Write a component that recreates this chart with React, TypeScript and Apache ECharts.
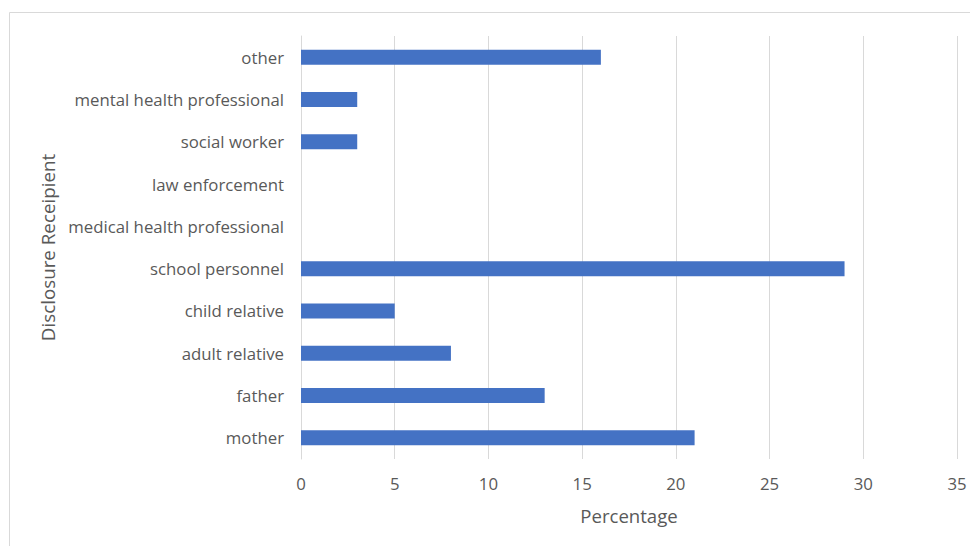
import React, { useEffect, useRef } from "react";
import * as echarts from "echarts";

const categories = [
  "mother",
  "father",
  "adult relative",
  "child relative",
  "school personnel",
  "medical health professional",
  "law enforcement",
  "social worker",
  "mental health professional",
  "other",
];
const percentages = [21, 13, 8, 5, 29, 0, 0, 3, 3, 16];
const xTicks = { min: 0, max: 35, interval: 5 };

const FONT = "Open Sans";
const TEXT = "#595959";

export default function App() {
  const ref = useRef<HTMLDivElement>(null);
  useEffect(() => {
    if (!ref.current) return;
    const chart = echarts.init(ref.current, undefined, { renderer: "svg" });
    chart.setOption({
      animation: false,
      backgroundColor: "#ffffff",
      textStyle: { fontFamily: FONT },
      graphic: [
        {
          type: "rect",
          shape: { x: 1.5, y: 4.5, width: 1100, height: 700 },
          style: { fill: "none", stroke: "#d9d9d9", lineWidth: 1 },
          silent: true,
        },
      ],
      grid: { left: 293, top: 28, width: 656, height: 423, containLabel: false },
      xAxis: {
        type: "value",
        min: xTicks.min,
        max: xTicks.max,
        interval: xTicks.interval,
        name: "Percentage",
        nameLocation: "middle",
        nameGap: 47,
        nameTextStyle: { color: TEXT, fontSize: 18.6, fontFamily: FONT },
        axisLine: { show: false },
        axisTick: { show: false },
        axisLabel: { color: TEXT, fontSize: 16.8, margin: 16, fontFamily: FONT },
        splitLine: { show: true, lineStyle: { color: "#d9d9d9", width: 1 } },
      },
      yAxis: {
        type: "category",
        data: categories,
        name: "Disclosure Receipient",
        nameLocation: "middle",
        nameGap: 242,
        nameRotate: 90,
        nameTextStyle: { color: TEXT, fontSize: 18.8, fontFamily: FONT },
        axisLine: { show: true, lineStyle: { color: "#d9d9d9", width: 1 } },
        axisTick: { show: false },
        axisLabel: { color: TEXT, fontSize: 16.8, margin: 17, fontFamily: FONT },
      },
      series: [
        {
          type: "bar",
          data: percentages,
          barWidth: 15,
          itemStyle: { color: "#4472C4" },
        },
      ],
    });
    return () => chart.dispose();
  }, []);
  return <div ref={ref} style={{ width: 970, height: 538 }} />;
}
